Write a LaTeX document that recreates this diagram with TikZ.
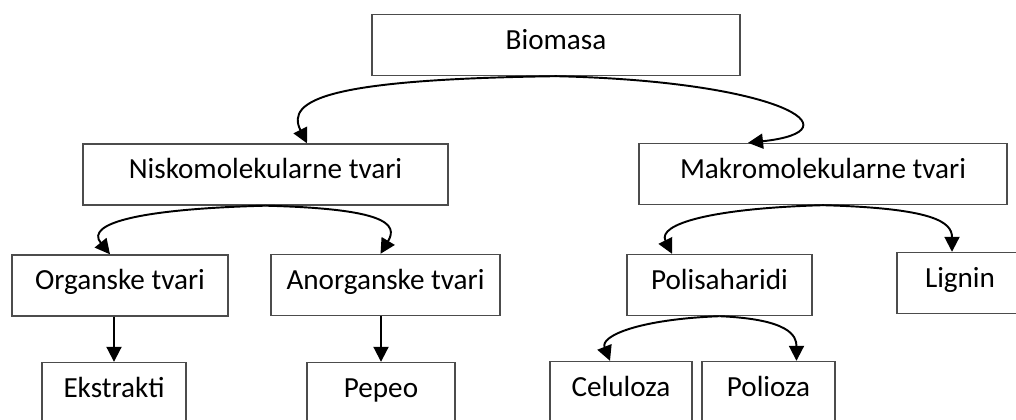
\documentclass[tikz,border=0pt]{standalone}
\usepackage{fontspec}
\setmainfont{Carlito}
\usetikzlibrary{arrows.meta}

\begin{document}
\begin{tikzpicture}[x=0.02cm, y=-0.02cm, box/.style = {draw=black!70, line width=0.8pt, minimum height=1.22cm, inner sep=0pt, text height=0.7em, text depth=0.2em, font=\fontsize{16.6}{20}\selectfont}, arr/.style = {-{Triangle[length=0.3cm,width=0.3cm]}, line width=1.1pt}]
\useasboundingbox (0,0) rectangle (1016,419);
\node[box, minimum width=7.36cm] (bio) at (556,45) {Biomasa};
\node[box, minimum width=7.3cm] (nisko) at (265.5,174.5) {Niskomolekularne tvari};
\node[box, minimum width=7.36cm] (makro) at (823,174) {Makromolekularne tvari};
\node[box, minimum width=4.32cm] (org) at (120,285.5) {Organske tvari};
\node[box, minimum width=4.58cm] (anorg) at (385.5,285) {Anorganske tvari};
\node[box, minimum width=3.7cm] (poli) at (719.5,285) {Polisaharidi};
\node[box, minimum width=2.52cm] (lign) at (960,283) {Lignin};
\node[box, minimum width=2.88cm] (eks) at (114,393) {Ekstrakti};
\node[box, minimum width=2.96cm] (pep) at (381,393) {Pepeo};
\node[box, minimum width=2.84cm] (cel) at (621,392) {Celuloza};
\node[box, minimum width=2.66cm] (polio) at (768.5,392) {Polioza};
\draw[arr] (bio.south) .. controls +(-226,3) and +(-22,-44) .. ([xshift=0.83cm]nisko.north);
\draw[arr] (bio.south) .. controls +(224,5) and +(112,-12) .. ([xshift=-1.5cm]makro.north);
\draw[arr] (nisko.south) .. controls +(-120,3) and +(-26,-32) .. ([xshift=-0.2cm]org.north);
\draw[arr] (nisko.south) .. controls +(120,3) and +(18,-30) .. ([xshift=-0.1cm]anorg.north);
\draw[arr] (makro.south) .. controls +(-110,3) and +(-15,-30) .. ([xshift=-0.95cm]poli.north);
\draw[arr] (makro.south) .. controls +(110,3) and +(0,-30) .. ([xshift=-0.16cm]lign.north);
\draw[arr] (poli.south) .. controls +(-80,3) and +(-10,-25) .. ([xshift=-0.22cm]cel.north);
\draw[arr] (poli.south) .. controls +(70,3) and +(0,-25) .. ([xshift=0.56cm]polio.north);
\draw[arr] (eks.north |- org.south) -- (eks.north);
\draw[arr] (pep.north |- anorg.south) -- (pep.north);
\end{tikzpicture}
\end{document}
